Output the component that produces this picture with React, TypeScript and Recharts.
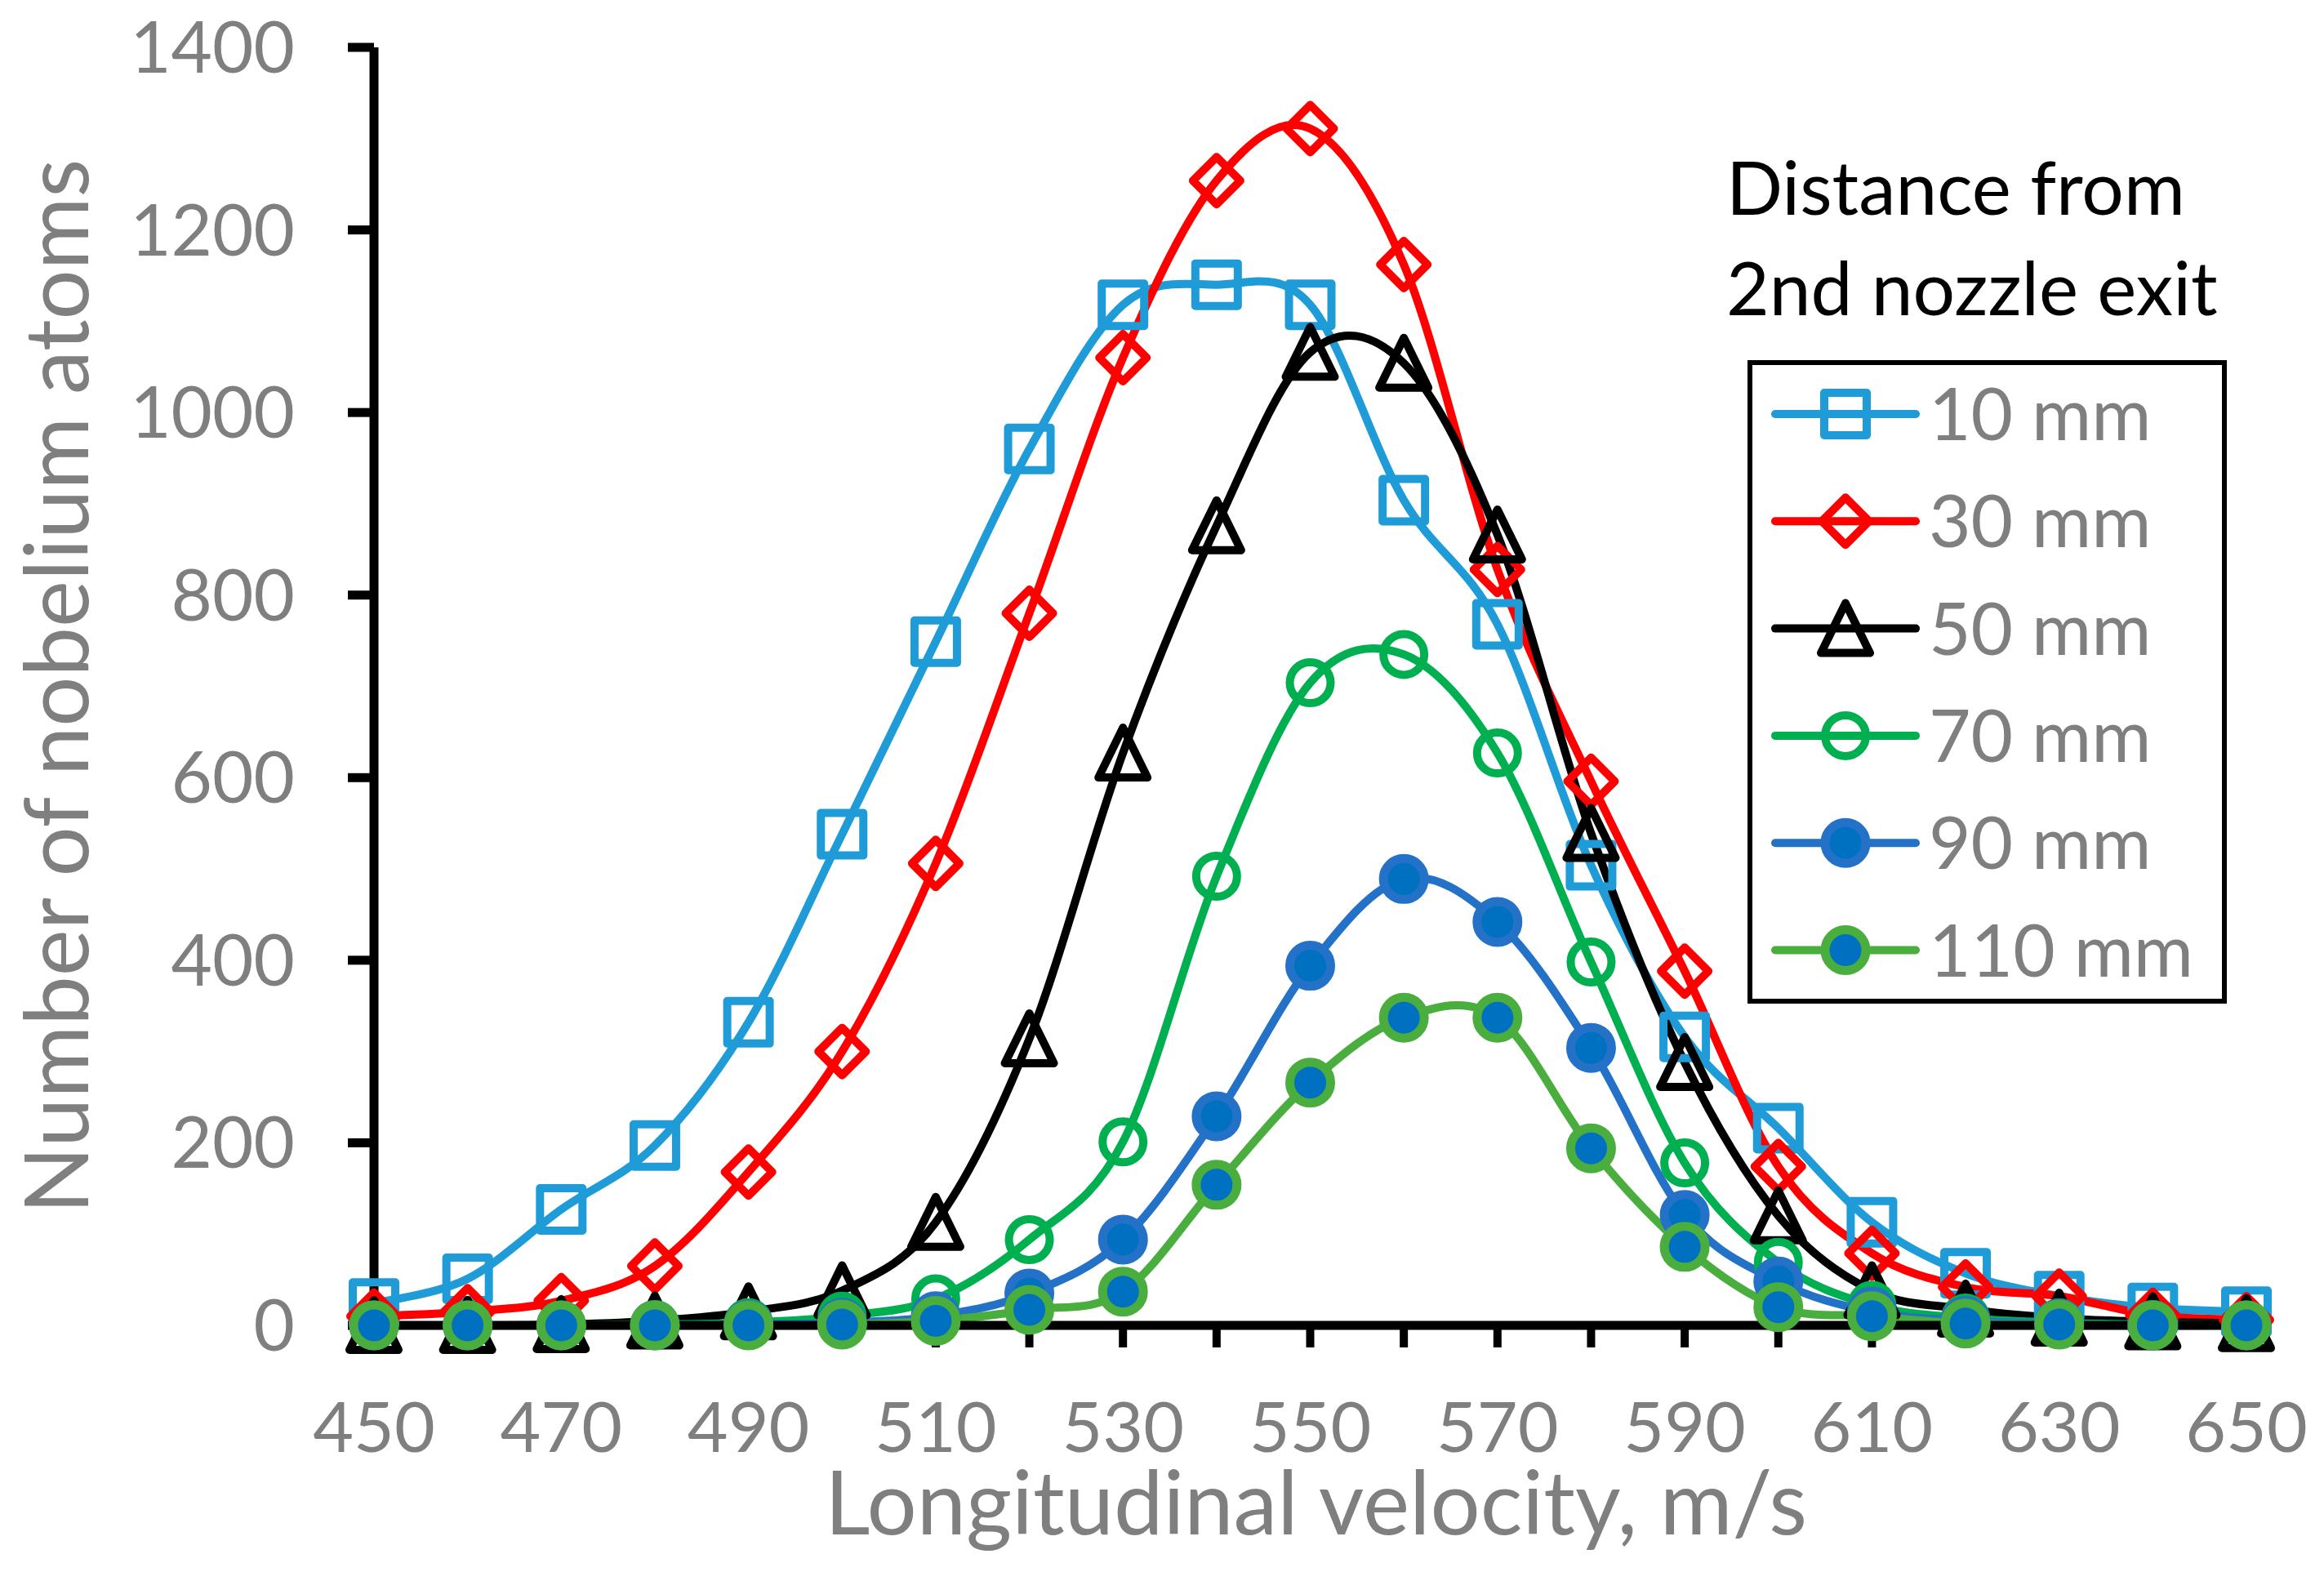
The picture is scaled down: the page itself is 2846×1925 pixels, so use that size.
import { LineChart, Line, XAxis, YAxis, Legend, Label } from 'recharts'

// velocity, m/s (one point every 10 m/s)
const velocity = [450, 460, 470, 480, 490, 500, 510, 520, 530, 540, 550, 560, 570, 580, 590, 600, 610, 620, 630, 640, 650]

// number of nobelium atoms per distance from the 2nd nozzle exit
const dist10 = [24, 51, 127, 197, 332, 538, 749, 960, 1118, 1140, 1118, 904, 768, 504, 316, 216, 113, 57, 32, 19, 15]
const dist30 = [10, 15, 27, 65, 168, 300, 506, 780, 1060, 1254, 1311, 1162, 828, 596, 388, 174, 79, 42, 32, 11, 6]
const dist50 = [0, 0, 1, 5, 15, 38, 113, 314, 627, 876, 1066, 1054, 866, 539, 288, 120, 38, 18, 8, 4, 2]
const dist70 = [0, 0, 0, 1, 3, 10, 29, 94, 201, 492, 704, 735, 627, 398, 178, 69, 22, 8, 3, 1, 0]
const dist90 = [0, 0, 0, 0, 1, 3, 10, 35, 94, 229, 394, 489, 442, 304, 121, 48, 15, 5, 2, 0, 0]
const dist110 = [0, 0, 0, 0, 0, 1, 5, 17, 37, 154, 266, 337, 337, 194, 86, 20, 10, 2, 1, 0, 0]

const yTicks = [0, 200, 400, 600, 800, 1000, 1200, 1400]
const xLabelTicks = [450, 470, 490, 510, 530, 550, 570, 590, 610, 630, 650]

const GRAY = '#7f7f7f'
const FONT = 'Lato, "Open Sans", sans-serif'

type Shape = 'square' | 'diamond' | 'triangle' | 'circle' | 'dot'

const series: { key: string; name: string; color: string; shape: Shape; fill: string }[] = [
  { key: 'd10', name: '10 mm', color: '#1f9cd8', shape: 'square', fill: 'none' },
  { key: 'd30', name: '30 mm', color: '#ff0000', shape: 'diamond', fill: 'none' },
  { key: 'd50', name: '50 mm', color: '#000000', shape: 'triangle', fill: 'none' },
  { key: 'd70', name: '70 mm', color: '#00b050', shape: 'circle', fill: 'none' },
  { key: 'd90', name: '90 mm', color: '#2372c7', shape: 'dot', fill: '#0070c0' },
  { key: 'd110', name: '110 mm', color: '#4aae3e', shape: 'dot', fill: '#0070c0' },
]

const data = velocity.map((v, i) => ({
  v,
  d10: dist10[i],
  d30: dist30[i],
  d50: dist50[i],
  d70: dist70[i],
  d90: dist90[i],
  d110: dist110[i],
}))

// Excel-style "smoothed line": cardinal spline, control points at p1 + (p2 - p0) / 6
const excelSmooth = (context: any) => {
  let pts: number[][] = []
  return {
    areaStart() {},
    areaEnd() {},
    lineStart() { pts = [] },
    point(x: number, y: number) { pts.push([+x, +y]) },
    lineEnd() {
      const n = pts.length
      if (!n) return
      context.moveTo(pts[0][0], pts[0][1])
      for (let i = 0; i < n - 1; i++) {
        const p0 = pts[Math.max(i - 1, 0)]
        const p1 = pts[i]
        const p2 = pts[i + 1]
        const p3 = pts[Math.min(i + 2, n - 1)]
        context.bezierCurveTo(
          p1[0] + (p2[0] - p0[0]) / 6, p1[1] + (p2[1] - p0[1]) / 6,
          p2[0] - (p3[0] - p1[0]) / 6, p2[1] - (p3[1] - p1[1]) / 6,
          p2[0], p2[1],
        )
      }
    },
  }
}

function Marker({ shape, cx, cy, color, fill }: { shape: Shape; cx: number; cy: number; color: string; fill: string }) {
  if (cx == null || cy == null) return null
  switch (shape) {
    case 'square':
      return <rect x={cx - 26} y={cy - 26} width={52} height={52} fill="none" stroke={color} strokeWidth={10} strokeLinejoin="round" />
    case 'diamond':
      return <path d={`M${cx},${cy - 29}L${cx + 29},${cy}L${cx},${cy + 29}L${cx - 29},${cy}Z`} fill="none" stroke={color} strokeWidth={10} strokeLinejoin="round" />
    case 'triangle':
      return <path d={`M${cx},${cy - 31}L${cx + 30},${cy + 30}L${cx - 30},${cy + 30}Z`} fill="none" stroke={color} strokeWidth={10} strokeLinejoin="round" />
    case 'circle':
      return <circle cx={cx} cy={cy} r={25} fill="none" stroke={color} strokeWidth={10} />
    default:
      return <circle cx={cx} cy={cy} r={25} fill={fill} stroke={color} strokeWidth={11} />
  }
}

const YTick = (p: any) => (
  <text x={p.x} y={p.y + 31} textAnchor="end" fontSize={87} fill={GRAY} fontFamily={FONT}>
    {p.payload.value}
  </text>
)

const XTick = (p: any) => {
  if (!xLabelTicks.includes(p.payload.value)) return <g />
  return (
    <text x={p.x} y={p.y + 128} textAnchor="middle" fontSize={86} fill={GRAY} fontFamily={FONT}>
      {p.payload.value}
    </text>
  )
}

const renderLegend = (props: any) => {
  const payload = props.payload ?? []
  return (
    <svg width={660} height={1060} style={{ display: 'block', overflow: 'visible' }} fontFamily={FONT}>
      <text x={4} y={83} fontSize={91} fill="#000">Distance from</text>
      <text x={4} y={206} fontSize={91} fill="#000">2nd nozzle exit</text>
      <rect x={33} y={264} width={581} height={782} fill="#fff" stroke="#000" strokeWidth={6} />
      {series.map((s, i) => {
        const entry = payload.find((e: any) => e.dataKey === s.key)
        const cy = 327 + i * 131.3
        return (
          <g key={s.key}>
            <line x1={64} x2={236} y1={cy} y2={cy} stroke={s.color} strokeWidth={10} strokeLinecap="round" />
            <Marker shape={s.shape} cx={150} cy={cy} color={s.color} fill={s.fill} />
            <text x={252} y={cy + 32} fontSize={89} fill={GRAY}>{entry?.value ?? s.name}</text>
          </g>
        )
      })}
    </svg>
  )
}

export default function App() {
  return (
    <div style={{ width: 2846, height: 1925, background: '#fff' }}>
      <style>{'body{margin:0;background:#fff}'}</style>
      <LineChart
        width={2846}
        height={1925}
        data={data}
        margin={{ top: 58, right: 95, bottom: 102, left: 58 }}
        style={{ fontFamily: FONT }}
      >
        <XAxis
          dataKey="v"
          type="number"
          domain={[450, 650]}
          ticks={velocity}
          interval={0}
          height={200}
          tickSize={27}
          tickMargin={0}
          axisLine={{ stroke: '#000', strokeWidth: 11 }}
          tickLine={{ stroke: '#000', strokeWidth: 10 }}
          tick={XTick}
        >
          <Label
            content={(p: any) => {
              const vb = p.viewBox
              return (
                <text x={vb.x + vb.width / 2 + 7} y={vb.y + 256} textAnchor="middle" fontSize={108} fill={GRAY} fontFamily={FONT}>
                  Longitudinal velocity, m/s
                </text>
              )
            }}
          />
        </XAxis>
        <YAxis
          type="number"
          domain={[0, 1400]}
          ticks={yTicks}
          interval={0}
          width={400}
          tickSize={32}
          tickMargin={65}
          axisLine={{ stroke: '#000', strokeWidth: 11 }}
          tickLine={{ stroke: '#000', strokeWidth: 11 }}
          tick={YTick}
        >
          <Label
            content={(p: any) => {
              const vb = p.viewBox
              const cx = vb.x + 50
              const cy = vb.y + vb.height / 2
              return (
                <text x={cx} y={cy} transform={`rotate(-90, ${cx}, ${cy})`} textAnchor="middle" fontSize={108} fill={GRAY} fontFamily={FONT}>
                  Number of nobelium atoms
                </text>
              )
            }}
          />
        </YAxis>
        <Legend
          layout="vertical"
          align="center"
          verticalAlign="middle"
          content={renderLegend}
          wrapperStyle={{ position: 'absolute', left: 2110, top: 180, width: 660, height: 1060 }}
        />
        {series.map(s => (
          <Line
            key={s.key}
            dataKey={s.key}
            name={s.name}
            type={excelSmooth as any}
            stroke={s.color}
            strokeWidth={10}
            isAnimationActive={false}
            activeDot={false}
            dot={(p: any) => (
              <Marker key={`${s.key}-${p.index}`} shape={s.shape} cx={p.cx} cy={p.cy} color={s.color} fill={s.fill} />
            )}
          />
        ))}
      </LineChart>
    </div>
  )
}
